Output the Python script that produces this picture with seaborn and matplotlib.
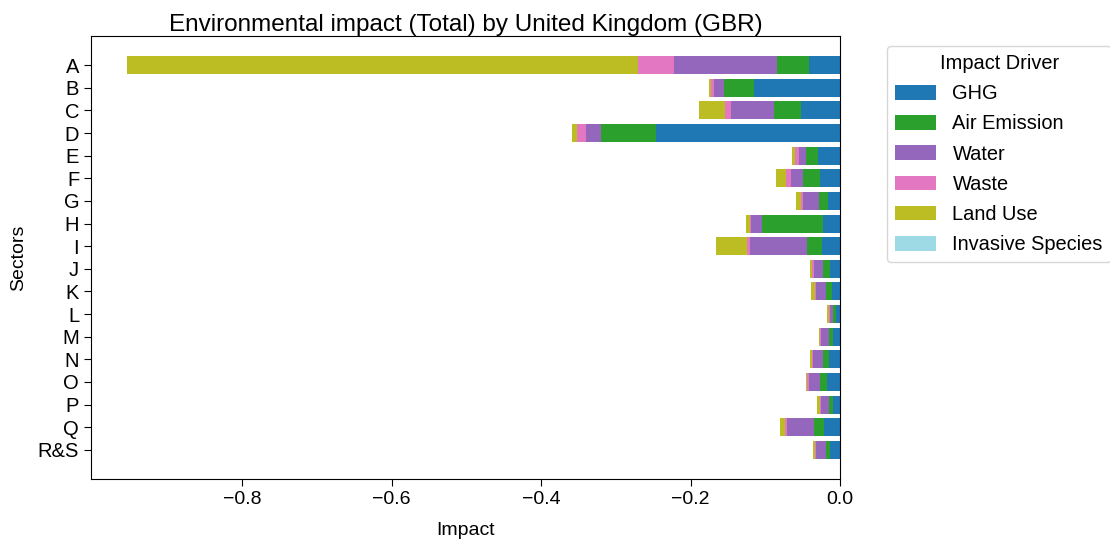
import numpy as np
import pandas as pd
import matplotlib
matplotlib.use('Agg')
import matplotlib.pyplot as plt
import seaborn as sns

# sectors, top to bottom
sectors = ['A', 'B', 'C', 'D', 'E', 'F', 'G', 'H', 'I', 'J', 'K', 'L', 'M', 'N', 'O', 'P', 'Q', 'R&S']

# impact per driver
ghg = [-0.0421, -0.1153, -0.0519, -0.2464, -0.0294, -0.0265, -0.0167, -0.0230, -0.0247,
       -0.0131, -0.0114, -0.0060, -0.0096, -0.0154, -0.0171, -0.0091, -0.0211, -0.0136]
air_emission = [-0.0428, -0.0402, -0.0367, -0.0731, -0.0157, -0.0237, -0.0121, -0.0811, -0.0197,
                -0.0094, -0.0076, -0.0031, -0.0058, -0.0076, -0.0099, -0.0063, -0.0134, -0.0054]
water = [-0.1378, -0.0137, -0.0579, -0.0210, -0.0093, -0.0151, -0.0214, -0.0152, -0.0767,
         -0.0125, -0.0134, -0.0045, -0.0098, -0.0138, -0.0142, -0.0107, -0.0371, -0.0134]
waste = [-0.0482, -0.0040, -0.0076, -0.0110, -0.0054, -0.0072, -0.0026, -0.0010, -0.0040,
         -0.0022, -0.0010, -0.0018, -0.0018, -0.0010, -0.0027, -0.0013, -0.0017, -0.0013]
land_use = [-0.6836, -0.0023, -0.0348, -0.0065, -0.0040, -0.0138, -0.0063, -0.0058, -0.0405,
            -0.0027, -0.0057, -0.0018, -0.0018, -0.0026, -0.0023, -0.0031, -0.0072, -0.0027]
invasive_species = [0.0, 0.0, 0.0, 0.0, 0.0, 0.0, 0.0, 0.0, 0.0,
                    0.0, 0.0, 0.0, 0.0, 0.0, 0.0, 0.0, 0.0, 0.0]

drivers = ['GHG', 'Air Emission', 'Water', 'Waste', 'Land Use', 'Invasive Species']
colors = ['#1f77b4', '#2ca02c', '#9467bd', '#e377c2', '#bcbd22', '#9edae5']

df = pd.DataFrame({'GHG': ghg, 'Air Emission': air_emission, 'Water': water,
                   'Waste': waste, 'Land Use': land_use, 'Invasive Species': invasive_species},
                  index=sectors)

plt.rcParams['font.family'] = ['Liberation Sans', 'DejaVu Sans']
plt.rcParams['font.size'] = 14
plt.rcParams['xtick.major.size'] = 5
plt.rcParams['ytick.major.size'] = 5

fig, ax = plt.subplots(figsize=(11.1, 5.4), dpi=100)
fig.subplots_adjust(left=0.082, right=0.7568, bottom=0.113, top=0.9333)

# stacked bars: draw the running totals from the outermost inwards
cum = df.cumsum(axis=1)
for i in range(len(drivers) - 1, -1, -1):
    col = df.columns[i]
    sns.barplot(x=cum[col].values, y=sectors, orient='h', color=colors[i],
                saturation=1, width=0.8, label=drivers[i], ax=ax)

n = len(sectors)
ax.set_ylim(n - 1 + 0.4 + 0.89, -0.4 - 0.89)
ax.set_xlim(-1.0022, 0)
ax.set_xticks([-0.8, -0.6, -0.4, -0.2, 0.0])
ax.tick_params(axis='x', labelsize=14)
ax.tick_params(axis='y', labelsize=14.5)

h, l = ax.get_legend_handles_labels()
order = [l.index(d) for d in drivers]
ax.legend([h[k] for k in order], [l[k] for k in order], title='Impact Driver',
          bbox_to_anchor=(1.05, 1), loc='upper left', fontsize=14.4, title_fontsize=14.4,
          labelspacing=0.56, handlelength=2.05, handleheight=0.75)

ax.set_title('Environmental impact (Total) by United Kingdom (GBR)', fontsize=17.5, pad=-1)
ax.set_xlabel('Impact', fontsize=14, labelpad=10)
ax.set_ylabel('Sectors', fontsize=14, labelpad=8)

plt.savefig('out.png')
